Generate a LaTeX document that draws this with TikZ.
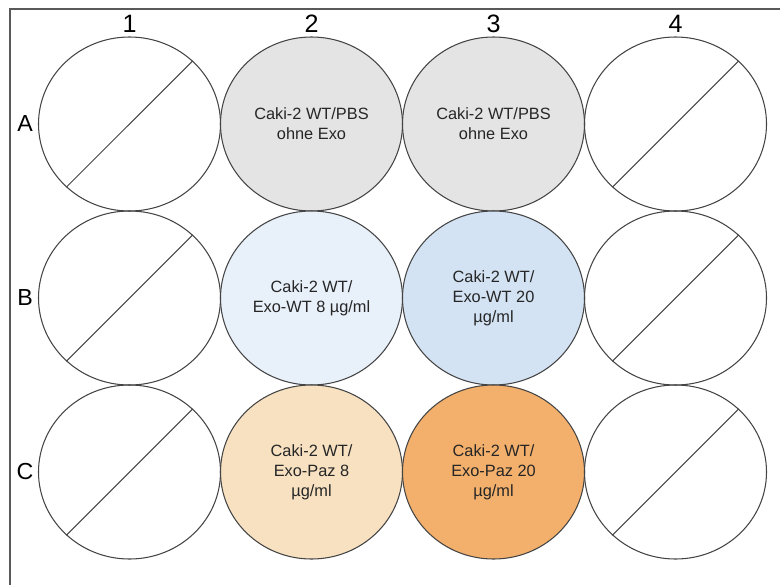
\documentclass[tikz,border=0pt]{standalone}
\usepackage{fontspec}
\setmainfont{Liberation Sans}
\usepackage{tikz}
\usetikzlibrary{shapes.geometric}
\definecolor{wellline}{HTML}{444444}
\definecolor{pbsgray}{HTML}{E4E4E4}
\definecolor{wtlight}{HTML}{E8F0FA}
\definecolor{wtdark}{HTML}{D3E3F3}
\definecolor{pazlight}{HTML}{F7E1C1}
\definecolor{pazdark}{HTML}{F3B06C}
\pgfkeys{tikz/well/.style={ellipse, draw=wellline, line width=0.6pt,
                                   minimum width=3.64cm, minimum height=3.48cm,
                                   inner sep=0pt, align=center, text=black!85,
                                   font=\fontsize{9.3}{11.4}\selectfont}}
\pgfkeys{tikz/collabel/.style={anchor=base, font=\fontsize{14.3}{16}\selectfont}}
\pgfkeys{tikz/rowlabel/.style={font=\fontsize{13.2}{15}\selectfont}}

\begin{document}
\begin{tikzpicture}
            \useasboundingbox (0,0) rectangle (15.6,11.68);
            \begin{scope}
            \clip (0,0) rectangle (15.6,11.68);
            \draw[draw=black!65, line width=0.6pt] (0.2,-1) rectangle (16.5,11.5);
            \end{scope}

            \node[collabel] (c1) at (2.59, 11.02) {1};
            \node[collabel] (c2) at (6.23, 11.02) {2};
            \node[collabel] (c3) at (9.87, 11.02) {3};
            \node[collabel] (c4) at (13.51, 11.02) {4};

            \node[rowlabel] (ra) at (0.5, 9.20) {A};
            \node[rowlabel] (rb) at (0.5, 5.72) {B};
            \node[rowlabel] (rc) at (0.5, 2.24) {C};

            \node[well] (a1) at (2.59, 9.20) {};
                    \node[well, fill=pbsgray] (a2) at (6.23, 9.20) {Caki-2 WT/PBS\\ohne Exo};
                    \node[well, fill=pbsgray] (a3) at (9.87, 9.20) {Caki-2 WT/PBS\\ohne Exo};
                    \node[well] (a4) at (13.51, 9.20) {};

                    \node[well] (b1) at (2.59, 5.72) {};
                    \node[well, fill=wtlight] (b2) at (6.23, 5.72) {Caki-2 WT/\\Exo-WT 8 µg/ml};
                    \node[well, fill=wtdark] (b3) at (9.87, 5.72) {Caki-2 WT/\\Exo-WT 20\\µg/ml};
                    \node[well] (b4) at (13.51, 5.72) {};

                    \node[well] (c1w) at (2.59, 2.24) {};
                    \node[well, fill=pazlight] (c2w) at (6.23, 2.24) {Caki-2 WT/\\Exo-Paz 8\\µg/ml};
                    \node[well, fill=pazdark] (c3w) at (9.87, 2.24) {Caki-2 WT/\\Exo-Paz 20\\µg/ml};
                    \node[well] (c4w) at (13.51, 2.24) {};

                    \draw[wellline, line width=0.6pt] (a1.225) -- (a1.45);
                    \draw[wellline, line width=0.6pt] (a4.225) -- (a4.45);
                    \draw[wellline, line width=0.6pt] (b1.225) -- (b1.45);
                    \draw[wellline, line width=0.6pt] (b4.225) -- (b4.45);
                    \draw[wellline, line width=0.6pt] (c1w.225) -- (c1w.45);
                    \draw[wellline, line width=0.6pt] (c4w.225) -- (c4w.45);
\end{tikzpicture}
\end{document}
